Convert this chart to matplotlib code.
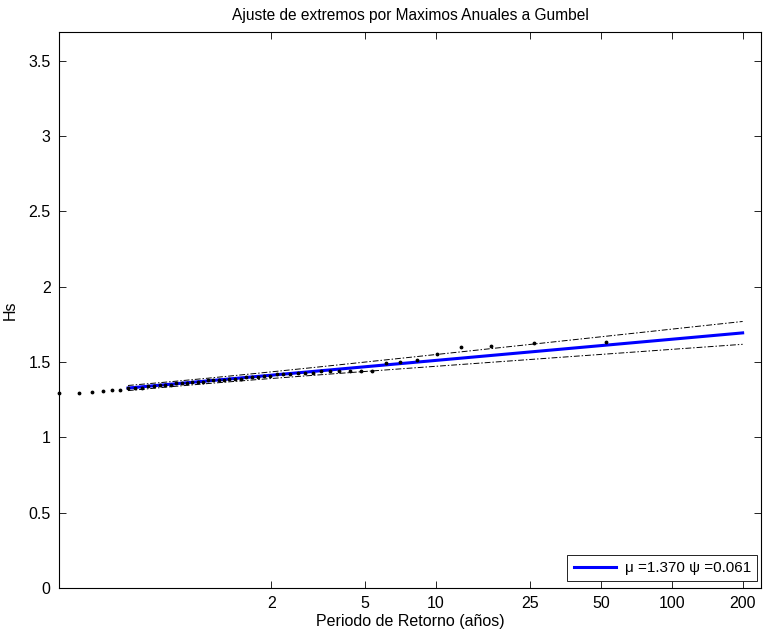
import numpy as np
import matplotlib
matplotlib.use("Agg")
import matplotlib.pyplot as plt

plt.rcParams['font.family'] = ['Liberation Sans', 'DejaVu Sans']

# Gumbel parameters of the annual-maxima fit
mu = 1.370
psi = 0.061

# Annual maximum significant wave heights (sorted ascending)
hs_max = np.array([
    1.294, 1.294, 1.302, 1.309, 1.311, 1.313,
    1.33, 1.33, 1.33, 1.34, 1.34, 1.35, 1.35, 1.35, 1.36, 1.36, 1.36,
    1.37, 1.37, 1.37, 1.38, 1.38, 1.38, 1.38, 1.39, 1.39, 1.39,
    1.40, 1.40, 1.40, 1.41, 1.41, 1.42, 1.42, 1.42, 1.43, 1.43, 1.43,
    1.44, 1.44, 1.44, 1.44, 1.44, 1.44,
    1.494, 1.499, 1.511, 1.554, 1.600, 1.607, 1.627, 1.633,
])

# Return periods shown on the axis
return_periods = [2, 5, 10, 25, 50, 100, 200]
return_labels = ['2', '5', '10', '25', '50', '100', '200']

n = len(hs_max)
F = np.arange(1, n + 1) / (n + 1)
y_emp = -np.log(-np.log(F))           # Gumbel reduced variate (Weibull plotting position)

# Fitted quantile curve and 95% confidence band
y_fit = np.linspace(y_emp[6], -np.log(-np.log(1 - 1 / 200)), 200)
hs_fit = mu + psi * y_fit
se = psi / np.sqrt(n) * np.sqrt(1.1087 + 0.5140 * y_fit + 0.6079 * y_fit ** 2)
upper = hs_fit + 1.96 * se
lower = hs_fit - 1.96 * se

fig = plt.figure(figsize=(7.63, 6.34), dpi=100)
ax = fig.add_axes([0.0773, 0.0726, 0.9202, 0.8769])

ax.plot(y_emp, hs_max, 'k.', markersize=3.5, clip_on=False, zorder=3)
ax.plot(y_fit, upper, color='k', linestyle=(0, (6, 2, 1.5, 2)), linewidth=0.7)
ax.plot(y_fit, lower, color='k', linestyle=(0, (6, 2, 1.5, 2)), linewidth=0.7)
ax.plot(y_fit, hs_fit, color='#0000ff', linewidth=2.2,
        label='μ =%.3f ψ =%.3f' % (mu, psi))

ax.set_xlim(y_emp[0], 5.476)
ax.set_ylim(0, 3.69)
ax.set_xticks(np.log(return_periods))
ax.set_xticklabels(return_labels)
ax.set_yticks(np.arange(0, 3.6, 0.5))
ax.set_yticklabels(['0', '0.5', '1', '1.5', '2', '2.5', '3', '3.5'])

ax.tick_params(direction='in', top=True, right=True, length=5, width=0.6,
               labelsize=11.5, pad=6)
for sp in ax.spines.values():
    sp.set_linewidth(0.8)

ax.set_title('Ajuste de extremos por Maximos Anuales a Gumbel', fontsize=11.2, pad=9)
ax.set_xlabel('Periodo de Retorno (años)', fontsize=11.5, labelpad=2)
ax.set_ylabel('Hs', fontsize=11.5, labelpad=8)

leg = ax.legend(loc='lower right', bbox_to_anchor=(1 - 4 / 702, 7 / 556),
                fontsize=11, fancybox=False, framealpha=1, edgecolor='black',
                handlelength=2.75, handletextpad=0.6, borderaxespad=0,
                borderpad=0.4)
leg.get_frame().set_linewidth(0.6)

fig.savefig('out.png', dpi=100)
